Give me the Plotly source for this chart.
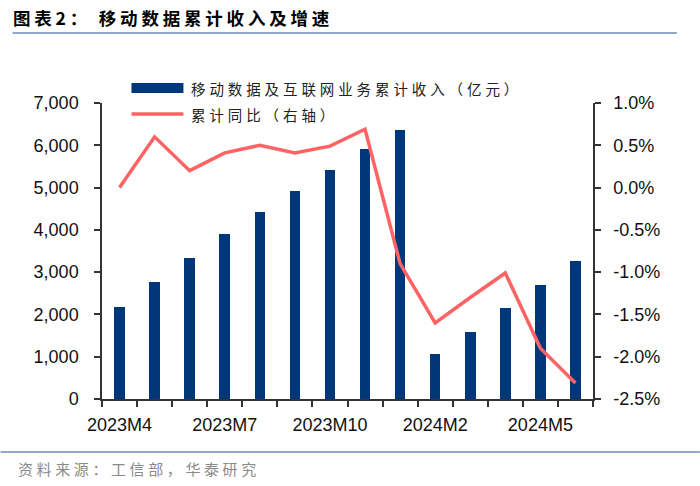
import plotly.graph_objects as go

# ---- data ----
categories = ["2023M4", "2023M5", "2023M6", "2023M7", "2023M8", "2023M9", "2023M10",
              "2023M11", "2023M12", "2024M2", "2024M3", "2024M4", "2024M5", "2024M6"]
revenue = [2175, 2760, 3342, 3894, 4414, 4911, 5423, 5904, 6361, 1056, 1592, 2152, 2703, 3270]
yoy = [0.0, 0.60, 0.20, 0.41, 0.50, 0.41, 0.49, 0.69, -0.90, -1.60, -1.30, -1.01, -1.90, -2.31]
yoy_ticks = [1.0, 0.5, 0.0, -0.5, -1.0, -1.5, -2.0, -2.5]
bar_name = "移动数据及互联网业务累计收入（亿元）"
line_name = "累计同比（右轴）"
title_text = "图表2： 移动数据累计收入及增速"
source_text = "资料来源：工信部，华泰研究"
label_every = 3

# ---- style ----
W, H = 700, 486
L, R, T, B = 101.5, 593, 103, 399
BAR_C = "#00377A"
LINE_C = "#FF6363"
AX_C = "#333333"
RULE_C = "#8FA9C9"
CJK = "Noto Sans CJK SC"
LAT = "Liberation Sans, Arial"

def px(x):
    return (x - L) / (R - L)

def py(y):
    return (B - y) / (B - T)

xs = list(range(len(categories)))
yoy_ticktext = [f"{v:.1f}%" for v in yoy_ticks]

fig = go.Figure()
fig.add_trace(go.Bar(x=xs, y=revenue, name=bar_name, marker=dict(color=BAR_C, line=dict(width=0)),
                     width=0.3, showlegend=False))
fig.add_trace(go.Scatter(x=xs, y=yoy, name=line_name, mode="lines", yaxis="y2",
                         line=dict(color=LINE_C, width=3.5), showlegend=False))

fig.update_layout(
    width=W, height=H,
    margin=dict(l=L, r=W - R, t=T, b=H - B, pad=0),
    paper_bgcolor="white", plot_bgcolor="white",
    font=dict(family=LAT, size=18, color="#111"),
    xaxis=dict(range=[-0.5, len(categories) - 0.5], tickmode="array",
               tickvals=xs[::label_every], ticktext=categories[::label_every],
               ticks="", showgrid=False, zeroline=False,
               showline=True, linecolor=AX_C, linewidth=1.5,
               ticklabelstandoff=9,
               minor=dict(tickmode="array", tickvals=[i - 0.5 for i in range(len(categories) + 1)],
                          ticks="outside", ticklen=6, tickwidth=1.5, tickcolor=AX_C, showgrid=False)),
    yaxis=dict(range=[0, 7000], dtick=1000, tickformat=",d", showgrid=False, zeroline=False,
               showline=True, linecolor=AX_C, linewidth=1.5, ticks="outside", ticklen=6,
               tickwidth=1.5, tickcolor=AX_C, ticklabelstandoff=12),
    yaxis2=dict(range=[-2.5, 1.0], tickmode="array", tickvals=yoy_ticks, ticktext=yoy_ticktext,
                overlaying="y", side="right", showgrid=False, zeroline=False, showline=True,
                linecolor=AX_C, linewidth=1.5, ticks="outside", ticklen=6, tickwidth=1.5,
                tickcolor=AX_C, ticklabelstandoff=9),
    bargap=0,
    title=dict(text=title_text, x=13 / W, xanchor="left", xref="container",
               y=1 - 19 / H, yanchor="middle", yref="container",
               font=dict(family=CJK, size=17.5, color="#000", weight="bold")),
)

shapes = [
    dict(type="line", xref="paper", yref="paper", x0=px(12), x1=px(677), y0=py(33), y1=py(33),
         line=dict(color=RULE_C, width=2)),
    dict(type="line", xref="paper", yref="paper", x0=px(0), x1=px(700), y0=py(452), y1=py(452),
         line=dict(color=RULE_C, width=2)),
    dict(type="rect", xref="paper", yref="paper", x0=px(131), x1=px(183), y0=py(93), y1=py(83),
         fillcolor=BAR_C, line=dict(width=0)),
    dict(type="line", xref="paper", yref="paper", x0=px(131), x1=px(183), y0=py(114), y1=py(114),
         line=dict(color=LINE_C, width=3.5)),
]
fig.update_layout(shapes=shapes)

annotations = []
for text, y in [(bar_name, 88), (line_name, 114)]:
    annotations.append(dict(text=text, xref="paper", yref="paper", x=px(189), y=py(y),
                            xanchor="left", yanchor="middle", showarrow=False,
                            font=dict(family=CJK, size=14.5, color="#222")))
annotations.append(dict(text=source_text, xref="paper", yref="paper", x=px(15), y=py(468),
                        xanchor="left", yanchor="middle", showarrow=False,
                        font=dict(family=CJK, size=15, color="#8A8A8A")))
fig.update_layout(annotations=annotations)

post = """
document.body.style.margin='0';
function sp(sel, v){
  document.querySelectorAll(sel).forEach(function(t){
    var x0 = t.getBBox().x;
    t.style.letterSpacing = v;
    var dx = x0 - t.getBBox().x;
    if (Math.abs(dx) > 0.1) {
      var tr = t.getAttribute('transform') || '';
      t.setAttribute('transform', tr + ' translate(' + dx + ',0)');
    }
  });
}
sp('.gtitle', '3.8px');
sp('g.annotation[data-index="0"] text', '3.9px');
sp('g.annotation[data-index="1"] text', '3.9px');
sp('g.annotation[data-index="2"] text', '3.6px');
"""
fig.write_html("out.html", post_script=post, config={"displayModeBar": False})
